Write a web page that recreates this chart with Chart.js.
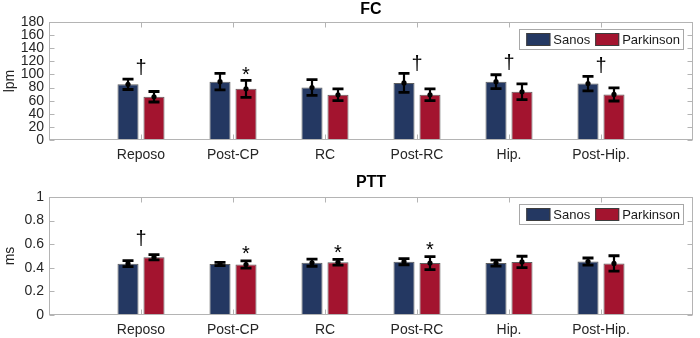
<!DOCTYPE html>
<html>
<head>
<meta charset="utf-8">
<script src="https://cdn.jsdelivr.net/npm/chart.js@4/dist/chart.umd.min.js"></script>
<style>
  body { margin: 0; background: #fff; }
  #wrap { position: relative; width: 700px; height: 338px; }
  .panel { position: absolute; left: 0; width: 700px; height: 169px; }
</style>
</head>
<body>
<div id="wrap">
  <div class="panel" style="top:0"><canvas id="fc" width="700" height="169"></canvas></div>
  <div class="panel" style="top:169px"><canvas id="ptt" width="700" height="169"></canvas></div>
</div>
<script>
const categories = ['Reposo', 'Post-CP', 'RC', 'Post-RC', 'Hip.', 'Post-Hip.'];
const seriesNames = ['Sanos', 'Parkinson'];
const seriesColors = ['#243862', '#a3142f'];

// FC (lpm)
const fcSanos = [85, 89, 80, 87, 89, 86];
const fcSanosSd = [8, 12.5, 12, 14.5, 10.5, 11];
const fcPark = [66, 78, 69, 69, 73.5, 69.5];
const fcParkSd = [8, 13, 9, 9, 12, 10];
const fcSymbols = ['†', '*', '', '†', '†', '†'];
const fcSymbolY = [112, 105.5, 0, 117.7, 119, 114.7];
const fcTicks = [0, 180, 20]; // min, max, step

// PTT (ms)
const pttSanos = [0.435, 0.432, 0.443, 0.452, 0.44, 0.453];
const pttSanosSd = [0.025, 0.014, 0.03, 0.026, 0.025, 0.03];
const pttPark = [0.49, 0.428, 0.447, 0.44, 0.45, 0.437];
const pttParkSd = [0.022, 0.03, 0.025, 0.055, 0.048, 0.065];
const pttSymbols = ['†', '*', '*', '*', '', ''];
const pttSymbolY = [0.653, 0.547, 0.56, 0.585, 0, 0];
const pttTicks = [0, 1, 0.2];

const FONT = "'Liberation Sans', Arial, sans-serif";
Chart.defaults.font.family = FONT;
Chart.defaults.color = '#262626';

function makePanel(id, opt) {
  const labels = [''].concat(categories, ['']);
  const pad = arr => [null].concat(arr, [null]);
  const sds = [opt.sd[0], opt.sd[1]];

  const decor = {
    id: 'decor',
    afterDatasetsDraw(chart) {
      const ctx = chart.ctx;
      const ys = chart.scales.y;
      ctx.save();
      // error bars
      for (let d = 0; d < 2; d++) {
        const meta = chart.getDatasetMeta(d);
        const vals = opt.values[d];
        vals.forEach((v, j) => {
          const el = meta.data[j + 1];
          const x = el.x;
          const yt = ys.getPixelForValue(v + sds[d][j]);
          const yb = ys.getPixelForValue(v - sds[d][j]);
          const ym = ys.getPixelForValue(v);
          ctx.strokeStyle = '#000';
          ctx.lineWidth = 2.2;
          ctx.beginPath();
          ctx.moveTo(x, yt); ctx.lineTo(x, yb);
          ctx.stroke();
          ctx.lineWidth = 2.8;
          ctx.beginPath();
          ctx.moveTo(x - 5.5, yt); ctx.lineTo(x + 5.5, yt);
          ctx.moveTo(x - 5.5, yb); ctx.lineTo(x + 5.5, yb);
          ctx.stroke();
          ctx.fillStyle = '#000';
          ctx.beginPath();
          ctx.arc(x, ym, 2.6, 0, Math.PI * 2);
          ctx.fill();
        });
      }
      // significance symbols
      ctx.fillStyle = '#000';
      ctx.font = '20px ' + FONT;
      ctx.textAlign = 'center';
      ctx.textBaseline = 'alphabetic';
      opt.symbols.forEach((s, j) => {
        if (!s) return;
        let x;
        if (s === '*') x = chart.getDatasetMeta(1).data[j + 1].x;
        else x = chart.scales.x.getPixelForValue(j + 1);
        const m = ctx.measureText(s);
        const yc = ys.getPixelForValue(opt.symbolY[j]);
        const base = yc + (m.actualBoundingBoxAscent - m.actualBoundingBoxDescent) / 2;
        ctx.fillText(s, x, base);
      });
      ctx.restore();
    },
    afterDraw(chart) {
      const ctx = chart.ctx;
      const a = chart.chartArea;
      const ys = chart.scales.y;
      const xs = chart.scales.x;
      ctx.save();
      // axes box
      ctx.strokeStyle = '#b4b4b4';
      ctx.lineWidth = 1;
      const L = Math.round(a.left) + 0.5, R = Math.round(a.right) - 0.5;
      const T = Math.round(a.top) + 0.5, B = Math.round(a.bottom) - 0.5;
      ctx.strokeRect(L, T, R - L, B - T);
      ctx.beginPath();
      ys.ticks.forEach(t => {
        const y = Math.round(ys.getPixelForValue(t.value)) + 0.5;
        ctx.moveTo(L, y); ctx.lineTo(L + 5, y);
        ctx.moveTo(R, y); ctx.lineTo(R - 5, y);
      });
      for (let j = 1; j <= categories.length; j++) {
        const x = Math.round(xs.getPixelForValue(j)) + 0.5;
        ctx.moveTo(x, T); ctx.lineTo(x, T + 5);
        ctx.moveTo(x, B); ctx.lineTo(x, B - 5);
      }
      ctx.stroke();

      // title
      ctx.fillStyle = '#000';
      ctx.font = 'bold 16px ' + FONT;
      ctx.textAlign = 'center';
      ctx.textBaseline = 'middle';
      ctx.fillText(opt.title, (a.left + a.right) / 2, opt.titleY);

      // y axis label
      ctx.fillStyle = '#262626';
      ctx.font = '14px ' + FONT;
      ctx.save();
      ctx.translate(10, (a.top + a.bottom) / 2);
      ctx.rotate(-Math.PI / 2);
      ctx.fillText(opt.yLabel, 0, 0);
      ctx.restore();

      // legend
      ctx.font = '13px ' + FONT;
      const w0 = ctx.measureText(seriesNames[0]).width;
      const w1 = ctx.measureText(seriesNames[1]).width;
      const lw = 7 + 24 + 3 + w0 + 5 + 24 + 3 + w1 + 3;
      const lx = a.right - 10 - lw;
      const ly = a.top + 7;
      ctx.fillStyle = '#fff';
      ctx.fillRect(lx, ly, lw, 20);
      ctx.strokeStyle = '#a8a8a8';
      ctx.strokeRect(Math.round(lx) + 0.5, Math.round(ly) + 0.5, Math.round(lw), 20);
      let cx = lx + 7;
      ctx.textAlign = 'left';
      seriesNames.forEach((n, i) => {
        ctx.fillStyle = seriesColors[i];
        ctx.fillRect(cx, ly + 4, 24, 13);
        ctx.strokeStyle = '#3c3c3c';
        ctx.strokeRect(cx + 0.5, ly + 4.5, 23, 12);
        ctx.fillStyle = '#1a1a1a';
        ctx.fillText(n, cx + 27, ly + 11);
        cx += 27 + (i === 0 ? w0 : w1) + 5;
      });
      ctx.restore();
    }
  };

  return new Chart(document.getElementById(id), {
    type: 'bar',
    data: {
      labels: labels,
      datasets: seriesNames.map((n, i) => ({
        label: n,
        data: pad(opt.values[i]),
        backgroundColor: seriesColors[i],
        borderColor: 'rgba(40,40,40,0.75)',
        borderWidth: 1,
        barPercentage: 0.81,
        categoryPercentage: 0.565
      }))
    },
    options: {
      responsive: false,
      animation: false,
      devicePixelRatio: 1,
      layout: { padding: { left: 0, right: 6, top: opt.padTop, bottom: 0 } },
      plugins: { legend: { display: false }, tooltip: { enabled: false } },
      scales: {
        x: {
          type: 'category',
          offset: false,
          grid: { display: false, drawTicks: false, offset: false },
          border: { display: false },
          ticks: { font: { size: 14 }, color: '#262626', padding: 7, autoSkip: false, maxRotation: 0 },
          afterFit(s) { s.height = opt.xHeight; }
        },
        y: {
          min: opt.ticks[0],
          max: opt.ticks[1],
          grid: { display: false, drawTicks: false },
          border: { display: false },
          ticks: {
            stepSize: opt.ticks[2],
            autoSkip: false,
            font: { size: 14 },
            color: '#262626',
            padding: 5,
            callback: v => String(Math.round(v * 100) / 100)
          },
          afterFit(s) { s.width = 49; }
        }
      }
    },
    plugins: [decor]
  });
}

makePanel('fc', {
  values: [fcSanos, fcPark],
  sd: [fcSanosSd, fcParkSd],
  symbols: fcSymbols,
  symbolY: fcSymbolY,
  ticks: fcTicks,
  title: 'FC',
  titleY: 10,
  yLabel: 'lpm',
  padTop: 22,
  xHeight: 29
});

makePanel('ptt', {
  values: [pttSanos, pttPark],
  sd: [pttSanosSd, pttParkSd],
  symbols: pttSymbols,
  symbolY: pttSymbolY,
  ticks: pttTicks,
  title: 'PTT',
  titleY: 14,
  yLabel: 'ms',
  padTop: 28,
  xHeight: 23
});
</script>
</body>
</html>
